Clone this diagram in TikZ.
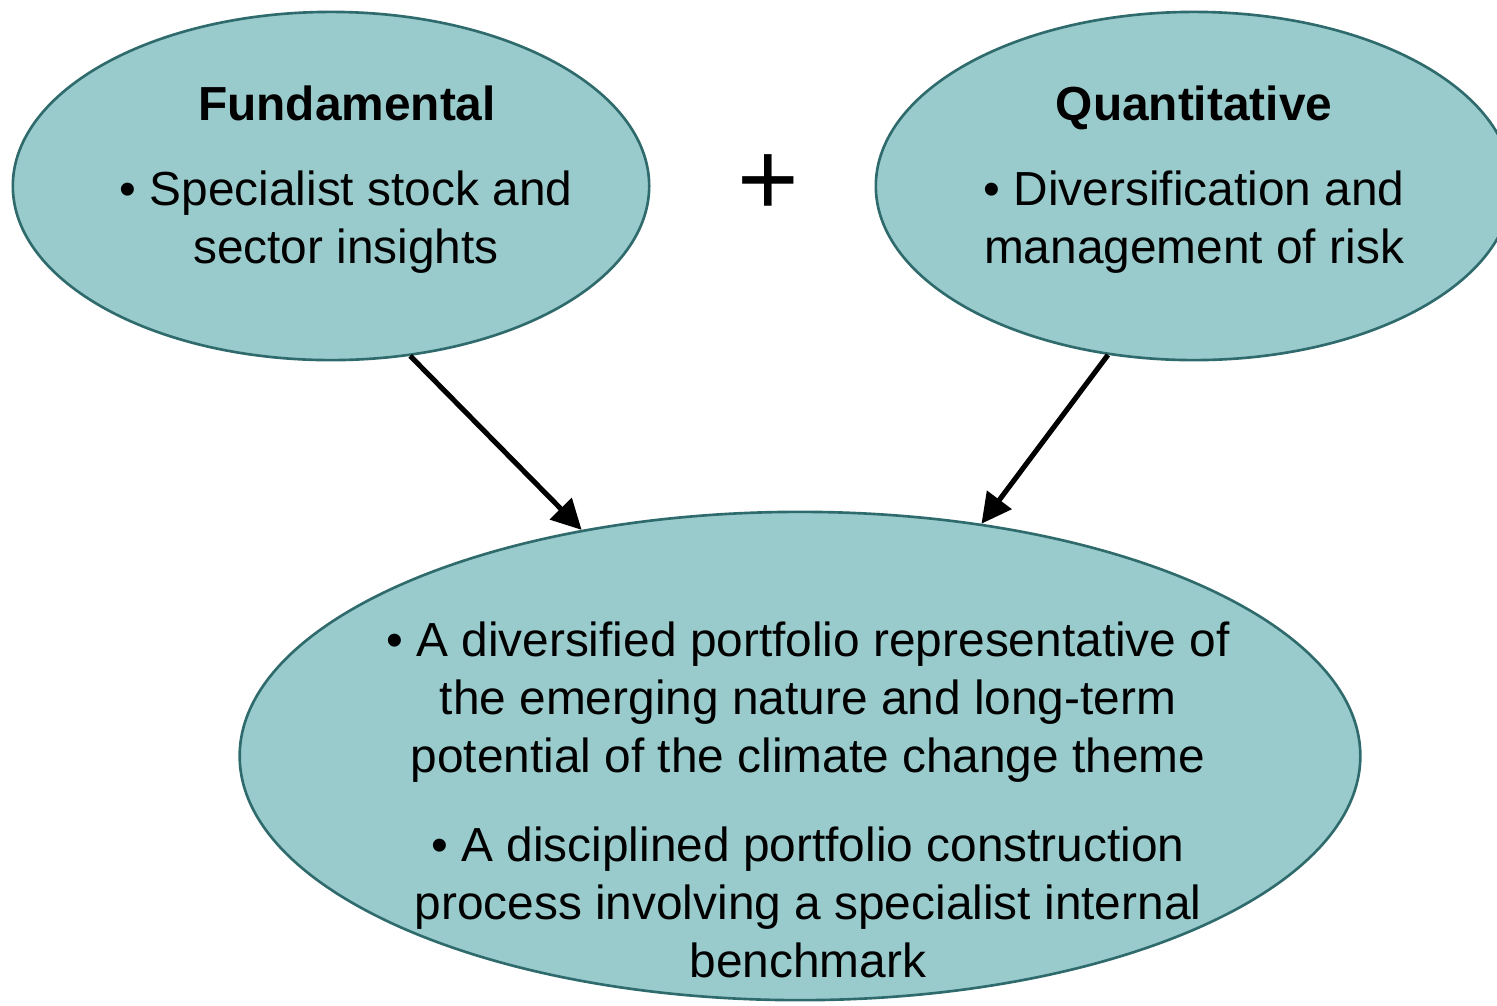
\documentclass[tikz,border=0pt]{standalone}
\usepackage{fontspec}
\setmainfont{Liberation Sans}
\usetikzlibrary{shapes.geometric,arrows.meta}
\definecolor{tealfill}{HTML}{99CBCC}
\definecolor{tealedge}{HTML}{2F6B6C}
\begin{document}
\begin{tikzpicture}[x=0.01cm,y=-0.01cm,
  bubble/.style={ellipse,draw=tealedge,fill=tealfill,line width=0.75pt,inner sep=0pt},
  txt/.style={align=center,font=\fontsize{13.6}{16.5}\selectfont},
  head/.style={font=\fontsize{13.6}{16.5}\selectfont\bfseries,anchor=base},
  flow/.style={line width=1.45pt,-{Triangle[length=8.5pt,width=8.5pt]}}]
\useasboundingbox (0,0) rectangle (1497,1005);
\clip (0,0) rectangle (1497,1005);

% the three bubbles
\node[bubble,minimum width=6.36cm,minimum height=3.48cm] (fund) at (331,186) {};
\node[bubble,minimum width=6.36cm,minimum height=3.48cm] (quant) at (1194,186) {};
\node[bubble,minimum width=11.2cm,minimum height=4.88cm] (port) at (800,756) {};

% bubble texts
\node[head] (fundT) at (347,120) {Fundamental};
\node[head] (quantT) at (1194,120) {Quantitative};
\node[txt] (fundB) at (346,222) {• Specialist stock and\\sector insights};
\node[txt] (quantB) at (1194,222) {• Diversification and\\management of risk};
\node[txt] (portA) at (808,702) {• A diversified portfolio representative of\\the emerging nature and long-term\\potential of the climate change theme};
\node[txt] (portB) at (808,902) {• A disciplined portfolio construction\\process involving a specialist internal\\benchmark};

% plus sign between the two inputs
\node[font=\fontsize{30}{30}\selectfont] (plus) at (768,185) {+};

% arrows into the combined portfolio
\draw[flow] (fund.-65.5) -- (port.134.5);
\draw[flow] (quant.243) -- (port.52);
\end{tikzpicture}
\end{document}
